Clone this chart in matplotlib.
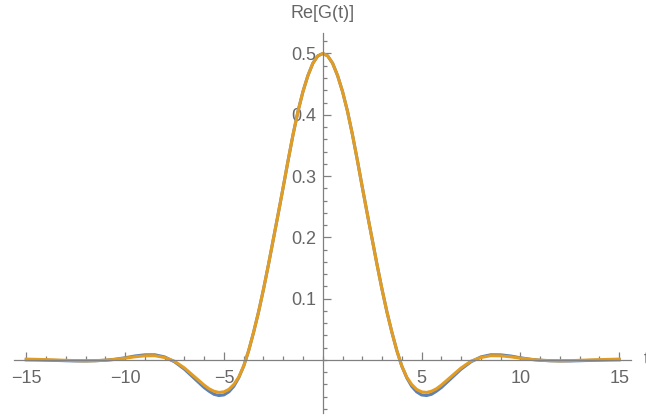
import matplotlib
matplotlib.use("Agg")
import matplotlib.pyplot as plt
import numpy as np
from matplotlib.ticker import FixedLocator, FuncFormatter

# --- donnees ---
t_vals = [-15, -14.5, -14, -13.5, -13, -12.5, -12, -11.5, -11, -10.5, -10, -9.5, -9, -8.5,
          -8, -7.5, -7, -6.5, -6, -5.75, -5.5, -5.25, -5, -4.75, -4.5, -4.25, -4, -3.75,
          -3.5, -3.25, -3, -2.75, -2.5, -2.25, -2, -1.75, -1.5, -1.25, -1, -0.75, -0.5, -0.25,
          0,
          0.25, 0.5, 0.75, 1, 1.25, 1.5, 1.75, 2, 2.25, 2.5, 2.75, 3, 3.25, 3.5, 3.75, 4,
          4.25, 4.5, 4.75, 5, 5.25, 5.5, 5.75, 6, 6.5, 7, 7.5, 8, 8.5, 9, 9.5, 10, 10.5,
          11, 11.5, 12, 12.5, 13, 13.5, 14, 14.5, 15]

re_blue = [0.0002, 0.0000, -0.0003, -0.0007, -0.0012, -0.0016, -0.0017, -0.0013, -0.0004, 0.0012,
           0.0036, 0.0065, 0.0084, 0.0085, 0.005, -0.003, -0.015, -0.030, -0.045, -0.051,
           -0.056, -0.058, -0.057, -0.052, -0.043, -0.029, -0.010, 0.015, 0.045, 0.078,
           0.115, 0.155, 0.197, 0.239, 0.282, 0.326, 0.368, 0.406, 0.438, 0.464, 0.484, 0.496,
           0.500,
           0.496, 0.484, 0.464, 0.438, 0.406, 0.368, 0.326, 0.282, 0.239, 0.197, 0.155, 0.115,
           0.078, 0.045, 0.015, -0.010, -0.029, -0.043, -0.052, -0.057, -0.058, -0.056,
           -0.051, -0.045, -0.030, -0.015, -0.003, 0.005, 0.0085, 0.0084, 0.0065, 0.0036,
           0.0012, -0.0004, -0.0013, -0.0017, -0.0016, -0.0012, -0.0007, -0.0003, 0.0000, 0.0002]

re_orange = [0.0014, 0.0010, 0.0005, 0.0000, -0.0006, -0.0011, -0.0013, -0.0011, -0.0004, 0.001,
             0.003, 0.0052, 0.0068, 0.007, 0.004, -0.002, -0.013, -0.027, -0.041, -0.047,
             -0.051, -0.053, -0.052, -0.048, -0.040, -0.028, -0.010, 0.015, 0.045, 0.078,
             0.115, 0.155, 0.197, 0.239, 0.282, 0.326, 0.368, 0.406, 0.438, 0.464, 0.484, 0.496,
             0.500,
             0.496, 0.484, 0.464, 0.438, 0.406, 0.368, 0.326, 0.282, 0.239, 0.197, 0.155, 0.115,
             0.078, 0.045, 0.015, -0.010, -0.028, -0.040, -0.048, -0.052, -0.053, -0.051,
             -0.047, -0.041, -0.027, -0.013, -0.002, 0.004, 0.007, 0.0068, 0.0052, 0.003,
             0.001, -0.0004, -0.0011, -0.0013, -0.0011, -0.0006, 0.0000, 0.0005, 0.0010, 0.0014]

x_major = [-15, -10, -5, 5, 10, 15]
y_major = [0.1, 0.2, 0.3, 0.4, 0.5]

# --- style ---
plt.rcParams['font.family'] = ['Liberation Sans', 'DejaVu Sans']
axis_col = '#808080'
text_col = '#666666'

fig = plt.figure(figsize=(6.46, 4.16), dpi=100)
ax = fig.add_axes([14 / 646, 3 / 416, 616.7 / 646, 380 / 416])

ax.plot(t_vals, re_blue, color='#5E81B5', lw=2.2)
ax.plot(t_vals, re_orange, color='#E19C24', lw=2.2)

ax.set_xlim(-15.62, 15.58)
ax.set_ylim(-0.0865, 0.5334)

# axes qui se croisent en (0, 0), facon Mathematica
for side in ['top', 'right']:
    ax.spines[side].set_visible(False)
for side in ['left', 'bottom']:
    ax.spines[side].set_position(('data', 0))
    ax.spines[side].set_color(axis_col)
    ax.spines[side].set_linewidth(0.9)

ax.xaxis.set_major_locator(FixedLocator(x_major))
ax.xaxis.set_minor_locator(FixedLocator(np.arange(-15, 16, 1)))
ax.yaxis.set_major_locator(FixedLocator(y_major))
ax.yaxis.set_minor_locator(FixedLocator(np.arange(-0.08, 0.53, 0.02)))
ax.xaxis.set_major_formatter(FuncFormatter(lambda v, p: f"{v:.0f}".replace('-', '\u2212')))
ax.yaxis.set_major_formatter(FuncFormatter(lambda v, p: f"{v:.1f}"))

ax.tick_params(which='both', direction='in', color=axis_col, width=0.9,
               labelcolor=text_col, labelsize=13)
ax.tick_params(which='major', length=5.5)
ax.tick_params(which='minor', length=3)
ax.tick_params(axis='x', which='major', pad=7)
ax.tick_params(axis='y', which='major', pad=5)

# etiquettes des axes (le "t" est coupe par le bord droit, comme sur l'original)
fig.text(323 / 646, 1 - 14 / 416, 'Re[G(t)]', ha='center', va='center',
         fontsize=13, color=text_col)
ax.text(16.25, 0.0, 't', ha='left', va='center', fontsize=13, color=text_col, clip_on=False)

fig.savefig('out.png', dpi=100)
